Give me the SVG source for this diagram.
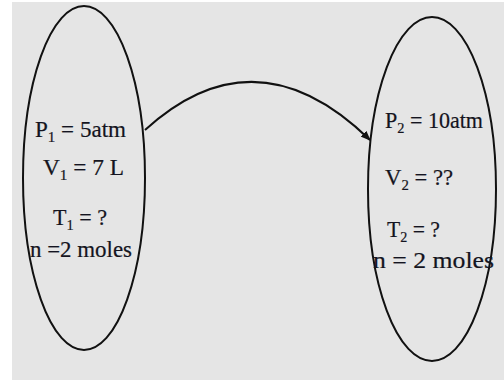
<svg xmlns="http://www.w3.org/2000/svg" width="504" height="380" viewBox="0 0 504 380">
<defs>
<style>
.lbl{font-family:"Liberation Serif","Times New Roman",serif;font-size:23px;fill:#141420;stroke:#141420;stroke-width:0.2}
.sub{font-size:15px}
.oval{fill:none;stroke:#111;stroke-width:2}
.conn{fill:none;stroke:#111;stroke-width:2}
</style>
<marker id="ah" markerWidth="10" markerHeight="8" refX="9" refY="4" orient="auto" markerUnits="userSpaceOnUse">
<path d="M0,0 L10,4 L0,8 Z" fill="#111"/>
</marker>
</defs>
<rect x="0" y="0" width="504" height="380" fill="#ffffff"/>
<rect x="12" y="2" width="492" height="378" fill="#e5e5e5"/>
<g id="state1">
<ellipse class="oval" cx="84" cy="178" rx="61" ry="172"/>
<text class="lbl" x="35" y="137" textLength="91" lengthAdjust="spacingAndGlyphs">P<tspan class="sub" dy="5">1</tspan><tspan dy="-5"> = 5atm</tspan></text>
<text class="lbl" x="43" y="175" textLength="81" lengthAdjust="spacingAndGlyphs">V<tspan class="sub" dy="5">1</tspan><tspan dy="-5"> = 7 L</tspan></text>
<text class="lbl" x="53" y="225" textLength="54" lengthAdjust="spacingAndGlyphs">T<tspan class="sub" dy="5">1</tspan><tspan dy="-5"> = ?</tspan></text>
<text class="lbl" x="30" y="257" textLength="102" lengthAdjust="spacingAndGlyphs">n =2 moles</text>
</g>
<g id="state2">
<ellipse class="oval" cx="432" cy="189" rx="64" ry="172"/>
<text class="lbl" x="385" y="128" textLength="98" lengthAdjust="spacingAndGlyphs">P<tspan class="sub" dy="5">2</tspan><tspan dy="-5"> = 10atm</tspan></text>
<text class="lbl" x="385" y="185" textLength="68" lengthAdjust="spacingAndGlyphs">V<tspan class="sub" dy="5">2</tspan><tspan dy="-5"> = ??</tspan></text>
<text class="lbl" x="387" y="237" textLength="53" lengthAdjust="spacingAndGlyphs">T<tspan class="sub" dy="5">2</tspan><tspan dy="-5"> = ?</tspan></text>
<text class="lbl" x="373" y="268" textLength="121" lengthAdjust="spacingAndGlyphs">n = 2 moles</text>
</g>
<g id="connectors">
<path class="conn" d="M145,130 Q256,29 370,140" marker-end="url(#ah)"/>
</g>
</svg>
